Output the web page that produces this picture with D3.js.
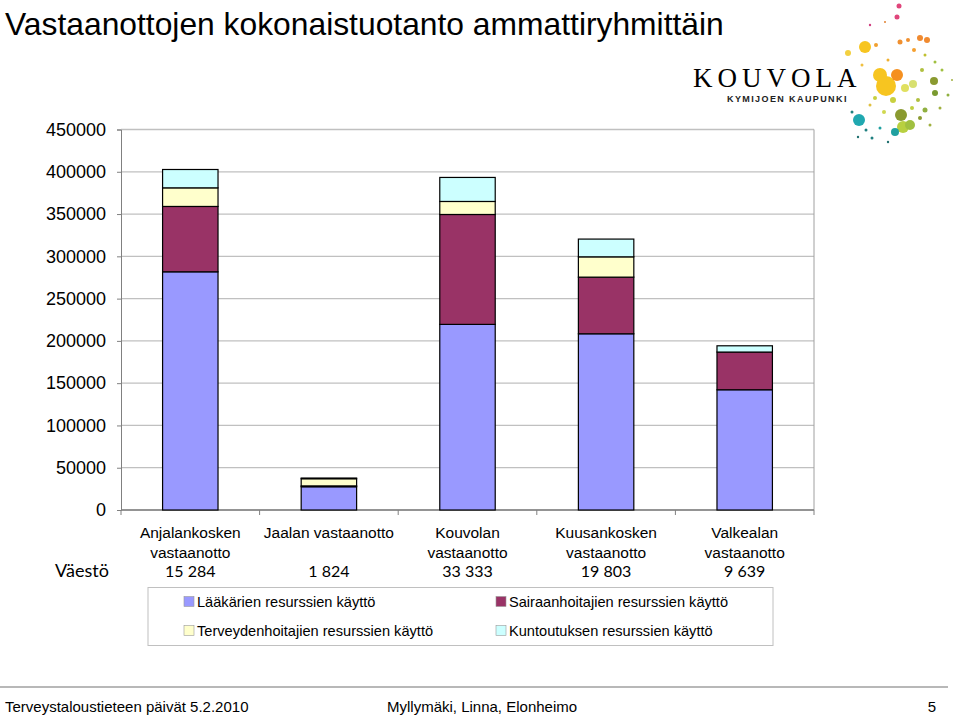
<!DOCTYPE html>
<html>
<head>
<meta charset="utf-8">
<script src="https://cdn.jsdelivr.net/npm/d3@7"></script>
<style>
  body { margin: 0; background: #fff; }
  svg { display: block; font-family: Arial, "Liberation Sans", sans-serif; }
</style>
</head>
<body>
<svg id="svg_id" width="960" height="717"></svg>
<script>
// data
var categories = ["Anjalankosken vastaanotto", "Jaalan vastaanotto", "Kouvolan vastaanotto",
                  "Kuusankosken vastaanotto", "Valkealan vastaanotto"];
var categoryLines = [["Anjalankosken", "vastaanotto"], ["Jaalan vastaanotto"], ["Kouvolan", "vastaanotto"],
                     ["Kuusankosken", "vastaanotto"], ["Valkealan", "vastaanotto"]];
var population = ["15 284", "1 824", "33 333", "19 803", "9 639"];
var seriesNames = ["Lääkärien resurssien käyttö", "Sairaanhoitajien resurssien käyttö",
                   "Terveydenhoitajien resurssien käyttö", "Kuntoutuksen resurssien käyttö"];
var laakarit        = [281700, 27500, 219500, 208400, 142200];
var sairaanhoitajat = [77300,  1000,  130000, 67000,  44600];
var terveydenhoit   = [22000,  8500,  15400,  24000,  0];
var kuntoutus       = [21700,  800,   28400,  21000,  7400];
var yTicks = [0, 50000, 100000, 150000, 200000, 250000, 300000, 350000, 400000, 450000];
var colors = ["#9999ff", "#993366", "#ffffcc", "#ccffff"];

// decorative logo dots [x, y, r, colour]
var logoDots = [
  [899, 6, 2.5, "#e0457b"], [897, 17, 2.5, "#e0457b"], [870, 25, 1.2, "#d04080"], [885, 22, 1, "#e08030"],
  [865, 47, 6, "#f7c520"], [848, 53, 3, "#f3d040"], [876, 45, 2, "#f0a030"], [900, 42, 2.5, "#f09030"],
  [908, 40, 2, "#f09030"], [920, 38, 3, "#f08a30"], [927, 40, 3, "#f08a30"], [914, 50, 2, "#f5a030"],
  [888, 60, 1.5, "#f0b030"], [925, 55, 1.5, "#c0c030"], [935, 62, 1.5, "#a0c040"], [942, 70, 1.5, "#a0c040"],
  [880, 75, 7, "#f7c520"], [886, 86, 10, "#f7c520"], [897, 75, 6, "#f59020"], [905, 88, 4, "#e0e060"],
  [913, 84, 4, "#d8e070"], [934, 81, 4, "#8a9a30"], [935, 93, 3, "#7a9a30"], [922, 70, 2, "#b0c040"],
  [948, 95, 1.5, "#90b040"], [918, 100, 2, "#b0c040"], [893, 100, 3, "#c8d040"], [875, 98, 2, "#c8d040"],
  [901, 115, 6, "#8a9a30"], [903, 127, 6, "#b8d040"], [910, 125, 5, "#a0c040"], [895, 132, 4, "#20a0a0"],
  [859, 120, 6, "#20a8b0"], [852, 112, 1.5, "#208080"], [866, 130, 1.5, "#208080"], [872, 138, 1.5, "#208080"],
  [880, 128, 1.5, "#20a0a0"], [858, 137, 1.2, "#207070"], [888, 142, 1.2, "#207070"], [920, 118, 2, "#8a9a30"],
  [925, 110, 2.5, "#90b040"], [912, 108, 2, "#c0d040"], [930, 125, 1.5, "#a0b040"], [884, 112, 2, "#d0d850"],
  [870, 105, 1.5, "#e0c040"], [940, 108, 1.5, "#a0b040"], [952, 80, 1, "#a0b040"], [862, 65, 1.5, "#f0c040"]
];

var svg = d3.select("#svg_id");

// title
svg.append("text")
  .attr("x", 5).attr("y", 35)
  .style("font-size", "31.8px")
  .text("Vastaanottojen kokonaistuotanto ammattiryhmittäin");

// logo
var logo = svg.append("g");
logoDots.forEach(function(d) {
  logo.append("circle").attr("cx", d[0]).attr("cy", d[1]).attr("r", d[2]).attr("fill", d[3]);
});
logo.append("text")
  .attr("x", 693).attr("y", 87)
  .style("font-family", "'Liberation Serif', 'DejaVu Serif', serif")
  .style("font-size", "27px")
  .style("letter-spacing", "5px")
  .text("KOUVOLA");
logo.append("text")
  .attr("x", 727).attr("y", 102)
  .style("font-size", "9px")
  .style("letter-spacing", "1.4px")
  .style("font-weight", "bold")
  .attr("fill", "#222")
  .text("KYMIJOEN KAUPUNKI");

// plot area
var plot = { left: 121, right: 814, top: 129.5, bottom: 510 };

var x = d3.scaleBand()
  .domain(categories)
  .range([plot.left, plot.right])
  .paddingInner(0.6)
  .paddingOuter(0.3);

var y = d3.scaleLinear()
  .domain([0, 450000])
  .range([plot.bottom, plot.top]);

// gridlines
svg.append("g")
  .selectAll("line")
  .data(yTicks)
  .join("line")
  .attr("x1", plot.left).attr("x2", plot.right)
  .attr("y1", function(d) { return y(d); })
  .attr("y2", function(d) { return y(d); })
  .attr("stroke", "#c0c0c0")
  .attr("stroke-width", 1.3);

// right border of plot area
svg.append("line")
  .attr("x1", plot.right).attr("x2", plot.right)
  .attr("y1", plot.top).attr("y2", plot.bottom)
  .attr("stroke", "#a0a0a0");

// y axis
var yAxis = svg.append("g")
  .attr("transform", "translate(" + plot.left + ",0)")
  .call(d3.axisLeft(y).tickValues(yTicks).tickSize(4).tickPadding(11).tickFormat(d3.format("d")));
yAxis.selectAll("text").style("font-size", "18px").attr("fill", "#000").style("font-family", "Arial, 'Liberation Sans', sans-serif");
yAxis.selectAll("line").attr("stroke", "#808080");
yAxis.select(".domain").attr("stroke", "#808080");

// x axis baseline and ticks between categories
var boundaries = d3.range(categories.length + 1).map(function(i) { return plot.left + i * (plot.right - plot.left) / categories.length; });
svg.append("line")
  .attr("x1", plot.left).attr("x2", plot.right)
  .attr("y1", plot.bottom).attr("y2", plot.bottom)
  .attr("stroke", "#808080").attr("stroke-width", 1.3);
svg.append("g")
  .selectAll("line")
  .data(boundaries)
  .join("line")
  .attr("x1", function(d) { return d; }).attr("x2", function(d) { return d; })
  .attr("y1", plot.bottom).attr("y2", plot.bottom + 5)
  .attr("stroke", "#808080");

// stacked bars
var table = categories.map(function(c, i) {
  return { cat: c, s0: laakarit[i], s1: sairaanhoitajat[i], s2: terveydenhoit[i], s3: kuntoutus[i] };
});
var stack = d3.stack().keys(["s0", "s1", "s2", "s3"])(table);

svg.append("g")
  .selectAll("g")
  .data(stack)
  .join("g")
  .attr("fill", function(d, i) { return colors[i]; })
  .selectAll("rect")
  .data(function(d) { return d; })
  .join("rect")
  .attr("x", function(d) { return x(d.data.cat); })
  .attr("width", x.bandwidth())
  .attr("y", function(d) { return y(d[1]); })
  .attr("height", function(d) { return y(d[0]) - y(d[1]); })
  .attr("stroke", "#000")
  .attr("stroke-width", 1.2)
  .attr("stroke-opacity", function(d) { return d[1] - d[0] > 0 ? 1 : 0; });

// category labels
var labels = svg.append("g").style("font-size", "15.5px").attr("text-anchor", "middle");
categories.forEach(function(c, i) {
  var cx = x(c) + x.bandwidth() / 2;
  categoryLines[i].forEach(function(line, j) {
    labels.append("text").attr("x", cx).attr("y", 538 + j * 19.5).text(line);
  });
  labels.append("text").attr("x", cx).attr("y", 577)
    .style("font-family", "Lato, 'Open Sans', sans-serif").style("font-size", "16px")
    .text(population[i]);
});
svg.append("text")
  .attr("x", 55).attr("y", 577)
  .style("font-family", "Lato, 'Open Sans', sans-serif").style("font-size", "18px")
  .text("Väestö");

// legend
var legend = svg.append("g");
legend.append("rect")
  .attr("x", 148).attr("y", 587.5).attr("width", 625).attr("height", 58)
  .attr("fill", "none").attr("stroke", "#c0c0c0");
var legendPos = [[184, 601.5], [496, 601.5], [184, 630.5], [496, 630.5]];
seriesNames.forEach(function(name, i) {
  legend.append("rect")
    .attr("x", legendPos[i][0]).attr("y", legendPos[i][1] - 5)
    .attr("width", 10).attr("height", 10)
    .attr("fill", colors[i]).attr("stroke", "#999").attr("stroke-width", 0.6);
  legend.append("text")
    .attr("x", legendPos[i][0] + 13).attr("y", legendPos[i][1] + 5.5)
    .style("font-size", "14.6px")
    .text(name);
});

// footer
svg.append("line")
  .attr("x1", 0).attr("x2", 948).attr("y1", 687).attr("y2", 687)
  .attr("stroke", "#a0a0a0").attr("stroke-width", 1.5);
var footer = svg.append("g").style("font-size", "15px");
footer.append("text").attr("x", 5).attr("y", 712).text("Terveystaloustieteen päivät 5.2.2010");
footer.append("text").attr("x", 387).attr("y", 712).text("Myllymäki, Linna, Elonheimo");
footer.append("text").attr("x", 936).attr("y", 712).attr("text-anchor", "end").text("5");
</script>
</body>
</html>
